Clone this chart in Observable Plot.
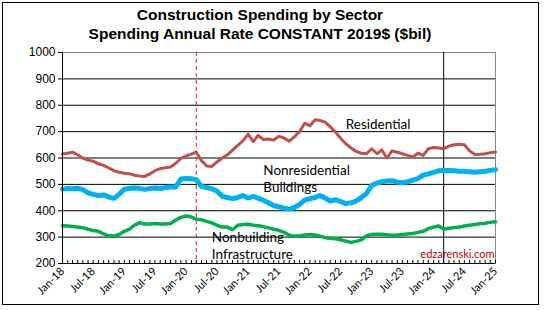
<!DOCTYPE html>
<html><head><meta charset="utf-8">
<script src="https://cdn.jsdelivr.net/npm/d3@7"></script>
<script src="https://cdn.jsdelivr.net/npm/@observablehq/plot@0.6"></script>
<style>
body{margin:0;background:#fff;}
#wrap{position:relative;width:545px;height:310px;overflow:hidden;}
#border{position:absolute;left:2px;top:2px;width:537px;height:303px;border:1px solid #000;box-sizing:border-box;pointer-events:none;}
#title{position:absolute;left:0;width:520px;top:5px;text-align:center;font:bold 15.5px "Liberation Sans",Arial,sans-serif;line-height:19px;color:#000;}
#chart{position:absolute;left:0;top:0;}
</style></head>
<body><div id="wrap"><div id="chart"></div><div id="title">Construction Spending by Sector<br>Spending Annual Rate CONSTANT 2019$ ($bil)</div><div id="border"></div></div>
<script>
const startMonth = "2018-01";
const residential = [615,618,622,612,600,592,588,578,572,562,552,546,542,540,535,532,530,540,552,560,563,566,580,598,608,615,622,590,570,568,585,600,612,630,648,665,690,662,686,670,672,668,682,676,664,680,700,732,722,745,742,736,718,698,675,654,638,625,618,616,635,616,631,600,627,622,616,610,604,618,610,635,640,638,635,645,650,652,650,627,613,614,616,620,623];
const nonresidential = [482,484,483,485,480,468,462,458,460,452,447,462,482,485,486,485,481,484,486,484,488,490,490,520,522,521,518,492,488,483,475,455,450,446,450,458,448,455,448,440,430,420,415,410,406,412,424,440,446,450,458,448,437,442,435,427,430,437,450,465,496,505,510,513,514,508,506,510,516,522,535,540,545,552,553,553,552,550,550,548,546,548,550,553,556];
const nonbuilding = [343,342,340,338,336,330,325,322,312,305,304,310,322,330,345,355,350,350,352,350,350,352,365,375,380,376,368,366,360,354,345,338,338,328,345,348,349,345,343,340,335,330,326,318,307,303,305,308,310,308,304,298,296,294,290,285,280,284,290,305,310,311,311,309,307,308,310,312,314,318,322,332,338,342,330,334,336,338,342,345,348,351,353,356,358];
const seriesNames = ["Residential","Nonresidential Buildings","Nonbuilding Infrastructure"];
const seriesColors = ["#C0504D","#00B0F0","#00B050"];
const seriesWidths = [3,5,3.5];
const markerDates = ["2020-03","2024-03"];
const yTicks = [200,300,400,500,600,700,800,900,1000];
const labels = [
  {text:"Residential", date:"2022-08", value:727},
  {text:"Nonresidential", date:"2021-04", value:552},
  {text:"Buildings", date:"2021-04", value:487},
  {text:"Nonbuilding", date:"2020-06", value:297},
  {text:"Infrastructure", date:"2020-06", value:232}
];

const parse = d3.utcParse("%Y-%m");
const t0 = parse(startMonth);
const rows = [];
[residential, nonresidential, nonbuilding].forEach((arr, s) => {
  arr.forEach((v, i) => rows.push({series: seriesNames[s], date: d3.utcMonth.offset(t0, i), value: v}));
});
const months = d3.utcMonth.range(t0, d3.utcMonth.offset(t0, 85));
const majors = d3.utcMonth.range(t0, d3.utcMonth.offset(t0, 85), 6);
const fmt = d3.utcFormat("%b-%y");

const chart = Plot.plot({
  width: 545, height: 310,
  marginTop: 52, marginBottom: 47, marginLeft: 62, marginRight: 50,
  style: {fontFamily: "Lato, sans-serif", background: "transparent"},
  x: {type: "utc", domain: [t0, d3.utcMonth.offset(t0, 84)]},
  y: {domain: [200, 1000]},
  marks: [
    Plot.gridY(yTicks, {stroke: "#000", strokeOpacity: 1, strokeWidth: 1}),
    Plot.frame({stroke: "#888", strokeWidth: 1}),
    Plot.ruleX(markerDates.map(parse).slice(0,1), {stroke: "#E02020", strokeDasharray: "4,3", strokeWidth: 1}),
    Plot.ruleX(markerDates.map(parse).slice(1), {stroke: "#000", strokeWidth: 1}),
    ...seriesNames.map((n, s) => Plot.line(rows.filter(r => r.series === n), {x: "date", y: "value", stroke: seriesColors[s], strokeWidth: seriesWidths[s], curve: "linear"})),
    Plot.ruleY([200], {stroke: "#000", strokeWidth: 1}),
    Plot.ruleX([t0], {stroke: "#000", strokeWidth: 1}),
    Plot.ruleX(months, {x: d => d, y1: 200, y2: 200, insetTop: -3, stroke: "#000"}),
    Plot.axisY(yTicks, {tickSize: 4, tickPadding: 3, label: null, tickFormat: d => String(d), fontSize: 12, fontFamily: "Liberation Sans, Arial, sans-serif", fill: "#000"}),
    Plot.axisX(majors, {tickSize: 0, tickRotate: -45, tickFormat: fmt, label: null, fontSize: 11, tickPadding: 6, fill: "#000"}),
    Plot.text(labels, {x: d => parse(d.date), y: "value", text: "text", textAnchor: "start", fontSize: 13.5, fill: "#000"}),
    Plot.text(["edzarenski.com"], {frameAnchor: "bottom-right", dy: -6, dx: -1, fill: "#C00000", fontSize: 11})
  ]
});
document.getElementById("chart").appendChild(chart);
</script></body></html>
